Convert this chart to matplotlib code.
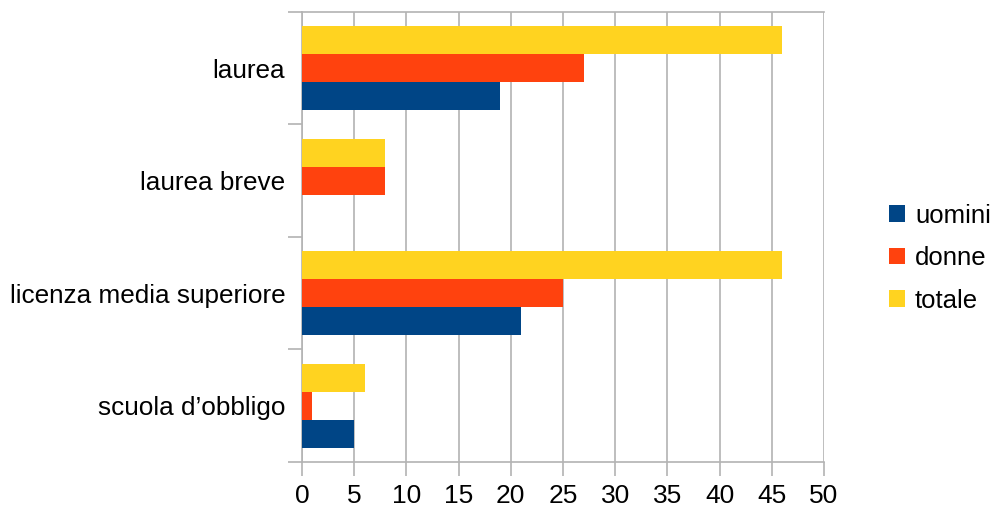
import matplotlib
matplotlib.use("Agg")
import matplotlib.pyplot as plt
import numpy as np

plt.rcParams["font.family"] = ["Liberation Sans", "DejaVu Sans"]

categorie = ["laurea", "laurea breve", "licenza media superiore", "scuola d\u2019obbligo"]
uomini = [19, 0, 21, 5]
donne = [27, 8, 25, 1]
totale = [46, 8, 46, 6]

serie = [("uomini", uomini, "#004586"),
         ("donne", donne, "#ff420e"),
         ("totale", totale, "#ffd320")]

fig = plt.figure(figsize=(9.9, 5.08), dpi=100)
ax = fig.add_axes([0.305, 0.0906, 0.5273, 0.8858])

# categorie dall'alto verso il basso
pos = np.arange(len(categorie))[::-1]
h = 0.25
for i, (nome, vals, col) in enumerate(serie):
    ax.barh(pos + (i - 1) * h, vals, height=h, color=col, label=nome, zorder=3)

ax.set_xlim(0, 50)
ax.set_ylim(-0.5, len(categorie) - 0.5)
ax.set_xticks(np.arange(0, 51, 5))
ax.set_yticks(pos)
ax.set_yticklabels(categorie)
ax.set_yticks(np.arange(-0.5, len(categorie), 1), minor=True)

ax.grid(axis="x", color="#b3b3b3", linewidth=1.2, zorder=0)
ax.spines["right"].set_visible(False)
for s in ["left", "bottom", "top"]:
    ax.spines[s].set_color("#b3b3b3")
    ax.spines[s].set_linewidth(1.2)

ax.tick_params(axis="x", length=10, width=1.2, color="#b3b3b3", labelsize=19, pad=6)
ax.tick_params(axis="y", which="major", length=0, labelsize=18.8, pad=12)
ax.tick_params(axis="y", which="minor", length=10, width=1.2, color="#b3b3b3")

ax.legend(loc="center left", bbox_to_anchor=(1.125, 0.453), frameon=False,
          fontsize=18.5, handlelength=0.6, handleheight=0.6, handletextpad=0.4,
          labelspacing=0.72, borderpad=0, borderaxespad=0)

fig.savefig("out.png", dpi=100)
